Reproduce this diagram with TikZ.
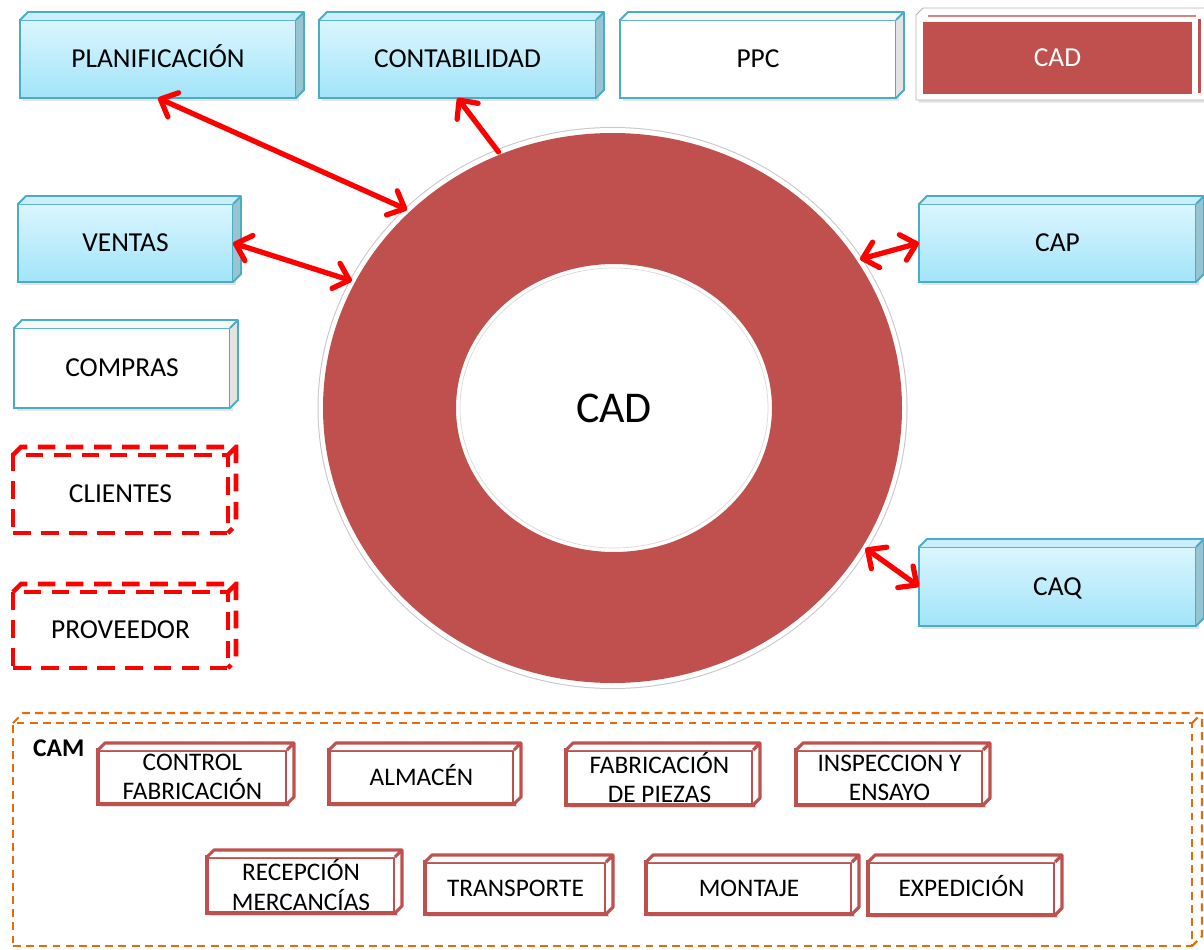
\documentclass[tikz,border=0pt]{standalone}
\usepackage{fontspec}
\setmainfont{Carlito}
\usetikzlibrary{arrows.meta,shapes.geometric,shadows}

\definecolor{cadred}{HTML}{C0504D}
\definecolor{boxteal}{HTML}{4BACC6}
\definecolor{camorange}{HTML}{E46C0A}
\definecolor{arrowred}{HTML}{FF0000}
\definecolor{skytop}{HTML}{DAF6FE}
\definecolor{skybot}{HTML}{A2E4F9}
\definecolor{skylid}{HTML}{CBEFFA}
\definecolor{skyside}{HTML}{96C5D1}

% depth of the box faces, in pixel units
\newcommand\cd{8}
% #1 name, #2 x1, #3 y1, #4 x2, #5 y2, #6 front style, #7 face family, #8 text
\newcommand\cubebox[8]{%
  \node[#6, outer sep=0pt, minimum width={(#4-#2)*0.02cm}, minimum height={(#5-#3)*0.02cm}]
    (#1) at ({(#2+#4)/2},{(#3+#5)/2}) {#8};
  \path[#7top] (#1.north west) -- ++(\cd,-\cd) -- ([shift={(\cd,-\cd)}]#1.north east)
    -- (#1.north east) -- cycle;
  \path[#7side] (#1.north east) -- ++(\cd,-\cd) -- ([shift={(\cd,-\cd)}]#1.south east)
    -- (#1.south east) -- cycle;
  \path[#7edge] (#1.north west) -- ++(\cd,-\cd) -- ([shift={(\cd,-\cd)}]#1.north east)
    -- ([shift={(\cd,-\cd)}]#1.south east) -- (#1.south east)
    (#1.north east) -- ++(\cd,-\cd);
}

\tikzset{
  softshadow/.style={drop shadow={opacity=0.22,shadow xshift=1.5pt,shadow yshift=-1.5pt}},
  labelfont/.style={font=\fontsize{15.6}{18}\selectfont, text height=10pt, text depth=0pt},
  camfont/.style={font=\fontsize{14.4}{16.6}\selectfont, align=center, inner sep=0pt},
  oneline/.style={text height=9.2pt, text depth=0pt},
  bluefront/.style={draw=boxteal, line width=1.1pt, top color=skytop, bottom color=skybot,
    labelfont, softshadow},
  bluetop/.style={fill=skylid},
  blueside/.style={fill=skyside},
  blueedge/.style={draw=boxteal, line width=1.1pt, line join=round},
  whitefront/.style={draw=boxteal, line width=1.1pt, fill=white, labelfont, softshadow},
  whitetop/.style={fill=gray!6},
  whiteside/.style={fill=gray!22},
  whiteedge/.style={draw=boxteal, line width=1.1pt, line join=round},
  camfront/.style={draw=cadred, line width=1.8pt, fill=white, camfont, softshadow},
  camone/.style={camfront, oneline},
  camtop/.style={fill=white},
  camside/.style={fill=white},
  camedge/.style={draw=cadred, line width=1.8pt, line join=round},
  dashfront/.style={draw=arrowred, line width=2.6pt, dash pattern=on 10pt off 6pt, labelfont},
  dashtop/.style={},
  dashside/.style={},
  dashedge/.style={draw=arrowred, line width=2.6pt, dash pattern=on 10pt off 6pt},
  framefront/.style={draw=camorange, line width=1.2pt, dash pattern=on 4.5pt off 3pt},
  frametop/.style={},
  frameside/.style={},
  frameedge/.style={draw=camorange, line width=1.2pt, dash pattern=on 4.5pt off 3pt},
  arrowline/.style={draw=arrowred, line width=3pt, line cap=round},
}

\begin{document}
\begin{tikzpicture}[x=0.02cm, y=-0.02cm, >={Straight Barb[round, length=8pt, width=15pt]}]
\useasboundingbox (0,0) rectangle (1204,950);

% ring
\fill[gray!45] (612.5,408) ellipse [x radius=295, y radius=281];
\fill[white] (612.5,408) ellipse [x radius=294, y radius=280];
\fill[cadred, even odd rule] (612.5,408) ellipse [x radius=289.5, y radius=275]
  (614,408) ellipse [x radius=158, y radius=144];
\draw[gray!30, line width=0.4pt] (614,408) ellipse [x radius=154, y radius=140];
\node[ellipse, draw=none, inner sep=0pt, outer sep=0pt,
  minimum width={586*0.02cm}, minimum height={556*0.02cm}] (ring) at (612.5,408) {};
\node[font=\fontsize{25}{30}\selectfont] (cadcenter) at (614,408) {CAD};

% top row
\cubebox{plan}{20}{20}{296}{98}{bluefront}{blue}{PLANIFICACIÓN}
\cubebox{contab}{319}{20}{596}{98}{bluefront}{blue}{CONTABILIDAD}
\cubebox{ppc}{620}{20}{896}{98}{whitefront}{white}{PPC}

% CAD box at the top right
\filldraw[fill=white, draw=gray!60, line width=0.5pt, softshadow]
  (916,15) -- (923,8) -- (1212,8) -- (1212,100) -- (916,100) -- cycle;
\node[fill=cadred, text=white, labelfont, outer sep=0pt,
  minimum width={269*0.02cm}, minimum height={72*0.02cm}] (cadbox) at (1057.5,58) {CAD};
\draw[cadred!70, line width=0.8pt] (928,16) -- (1196,16);
\fill[cadred] (1198,19) rectangle (1201,93);

% left column
\cubebox{ventas}{18}{204}{233}{282}{bluefront}{blue}{VENTAS}
\cubebox{compras}{14}{328}{230}{408}{whitefront}{white}{COMPRAS}
\cubebox{clientes}{13}{455}{228}{533}{dashfront}{dash}{CLIENTES}
\cubebox{proveedor}{13}{592}{228}{668}{dashfront}{dash}{PROVEEDOR}

% right column
\cubebox{cap}{919}{204}{1196}{282}{bluefront}{blue}{CAP}
\cubebox{caq}{919}{547}{1196}{626}{bluefront}{blue}{CAQ}

% CAM frame
\renewcommand\cd{10}
\cubebox{camframe}{13}{723}{1192}{946}{framefront}{frame}{}
\node[font=\bfseries\fontsize{14.5}{16}\selectfont, anchor=west] (camlabel) at (27,748) {CAM};

% CAM boxes
\renewcommand\cd{7}
\cubebox{control}{98}{750}{287}{804}{camfront}{cam}{CONTROL\\FABRICACIÓN}
\cubebox{almacen}{329}{750}{514}{804}{camone}{cam}{ALMACÉN}
\cubebox{piezas}{566}{750}{753}{805}{camfront}{cam}{FABRICACIÓN\\DE PIEZAS}
\cubebox{inspeccion}{796}{750}{983}{805}{camfront}{cam}{INSPECCION Y\\ENSAYO}
\cubebox{recepcion}{207}{857}{395}{913}{camfront}{cam}{RECEPCIÓN\\MERCANCÍAS}
\cubebox{transporte}{425}{862}{606}{914}{camone}{cam}{TRANSPORTE}
\cubebox{montaje}{646}{862}{852}{914}{camone}{cam}{MONTAJE}
\cubebox{expedicion}{868}{862}{1055}{915}{camone}{cam}{EXPEDICIÓN}

% connectors
\draw[arrowline, <->] (plan.south) -- (ring.136.9);
\draw[arrowline, ->] (ring.114.7) -- (contab.south);
\draw[arrowline, <->] (ventas.east) -- (ring.154.9);
\draw[arrowline, <->] (cap.west) -- (ring.31.4);
\draw[arrowline, <->] (caq.west) -- (ring.-29.6);
\end{tikzpicture}
\end{document}
